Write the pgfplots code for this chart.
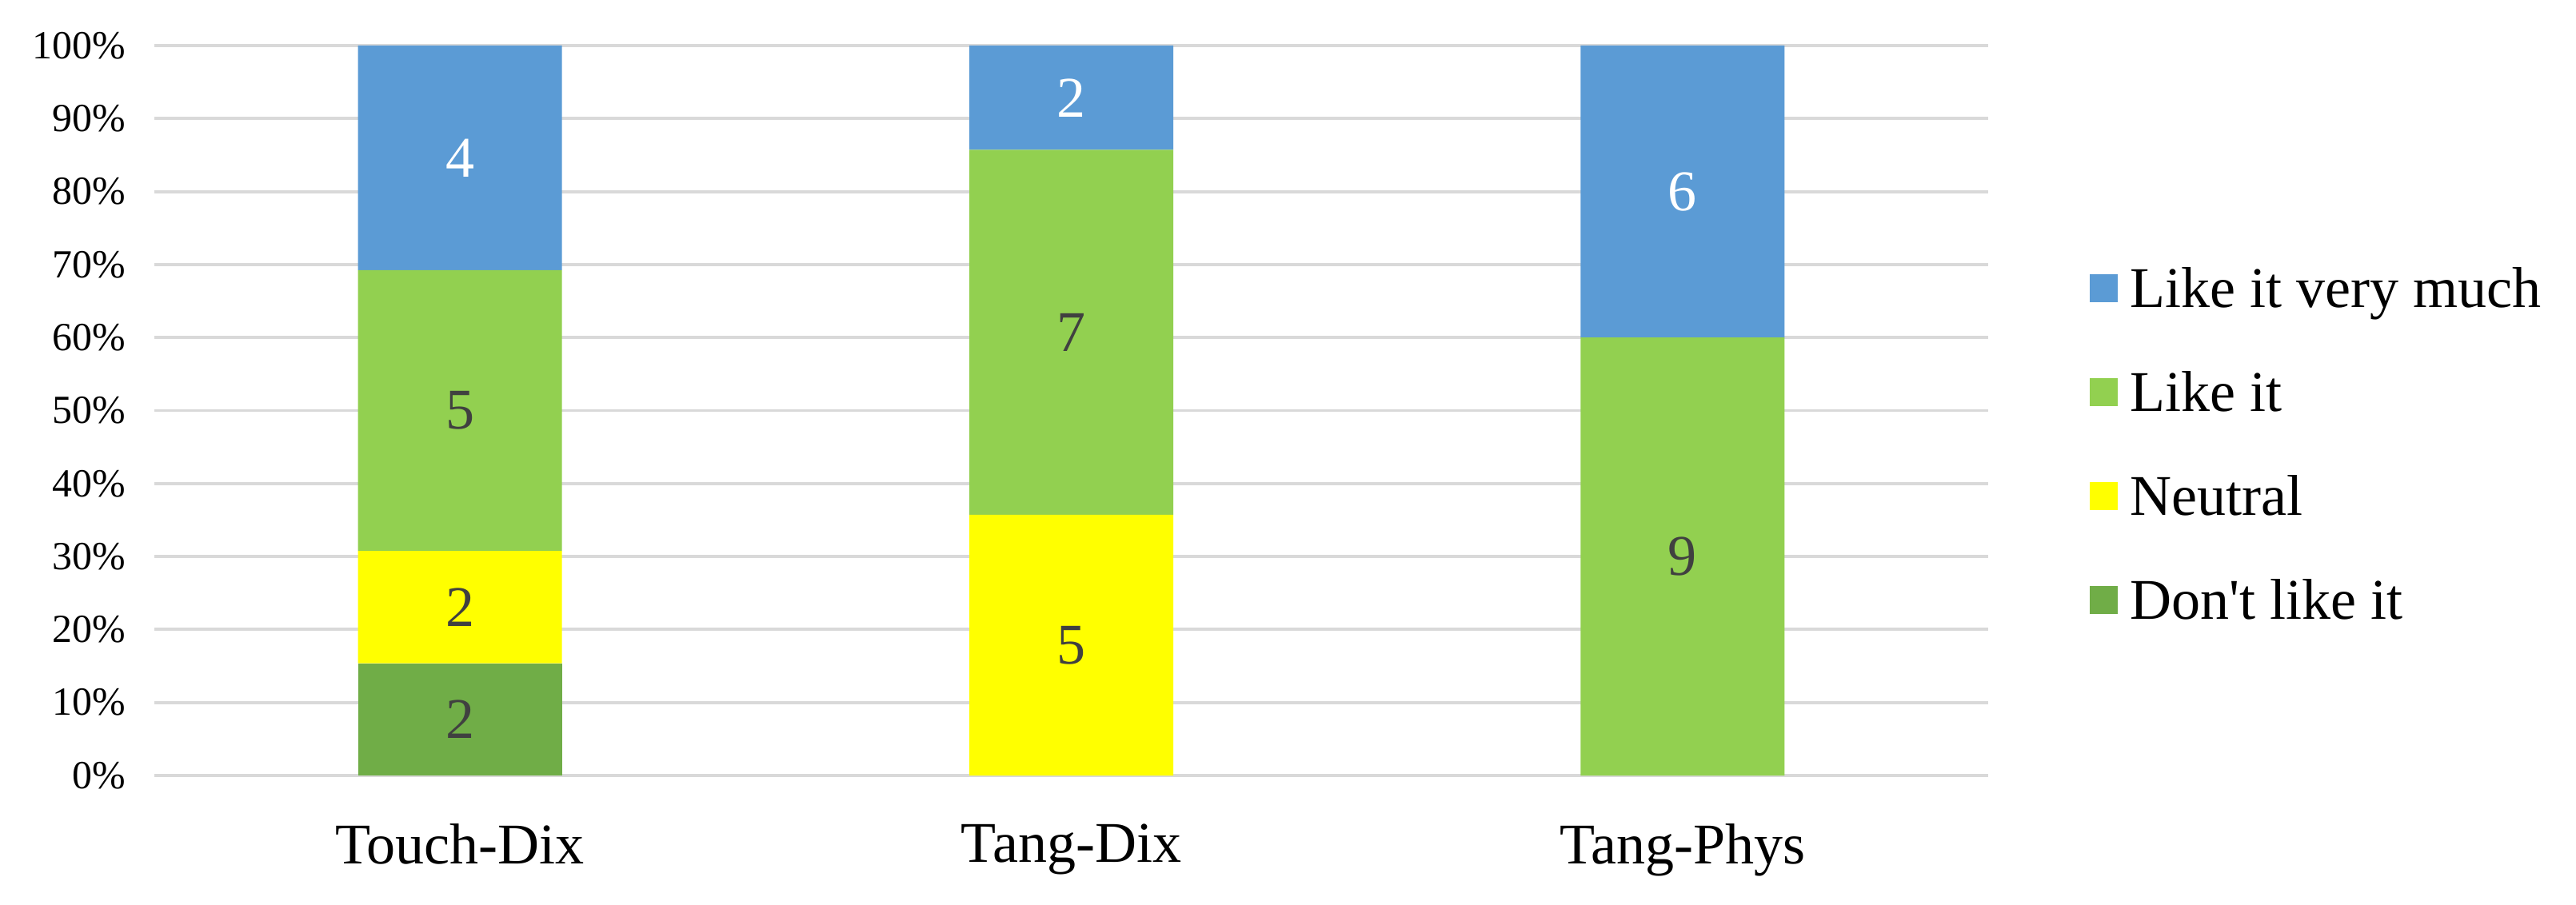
\documentclass[border=0pt]{standalone}
\usepackage{fontspec}
\setmainfont{Liberation Serif}
\usepackage{pgfplots}
\usepackage{pgfplotstable}
\pgfplotsset{compat=1.18}
\definecolor{cVery}{HTML}{5B9BD5}
\definecolor{cLike}{HTML}{92D050}
\definecolor{cNeutral}{HTML}{FFFF00}
\definecolor{cDont}{HTML}{70AD47}
\definecolor{cGrid}{HTML}{D9D9D9}
\definecolor{cLab}{HTML}{404040}

\pgfplotsset{sqlegend/.style={legend image code/.code={\fill[##1, draw=none] (0cm,-0.175cm) rectangle (0.35cm,0.175cm); \path (0.51cm,0cm);}}}

% x = category, y = percent of respondents
\pgfplotstableread{
x y
0 15.385
1 0
2 0
}\dontlike
\pgfplotstableread{
x y
0 15.385
1 35.714
2 0
}\neutral
\pgfplotstableread{
x y
0 38.462
1 50.000
2 60.000
}\likeit
\pgfplotstableread{
x y
0 30.769
1 14.286
2 40.000
}\likevery
% labels: x, middle of segment, count
\pgfplotstableread{
x y n
0 7.692 2
0 23.077 2
0 50.000 5
1 17.857 5
1 60.714 7
2 30.000 9
}\labdark
\pgfplotstableread{
x y n
0 84.615 4
1 92.857 2
2 80.000 6
}\labwhite

\begin{document}
\begin{tikzpicture}
\begin{axis}[
  scale only axis,
  width=22.93cm, height=9.13cm,
  ybar stacked,
  bar width=2.55cm,
  xmin=-0.5, xmax=2.5, ymin=0, ymax=100,
  enlargelimits=false,
  xtick={0,1,2},
  xticklabels={Touch-Dix,Tang-Dix,Tang-Phys},
  ytick={0,10,20,30,40,50,60,70,80,90,100},
  yticklabels={0\%,10\%,20\%,30\%,40\%,50\%,60\%,70\%,80\%,90\%,100\%},
  major tick length=0pt,
  axis line style={draw=none},
  ymajorgrids,
  grid style={cGrid, line width=1.13pt},
  yticklabel style={font=\fontsize{14.2}{17}\selectfont, xshift=-0.24cm},
  xticklabel style={font=\fontsize{20.5}{24}\selectfont, yshift=-0.48cm},
  legend style={draw=none, fill=none, at={(1.0549,0.454)}, anchor=west,
     inner sep=0pt, row sep=0.817cm,
     nodes={inner sep=0pt, text height=0.48cm, text depth=0cm, anchor=west,
            font=\fontsize{20.5}{24}\selectfont}},
  legend cell align=left,
  reverse legend,
]
\addplot[fill=cDont, draw=none, sqlegend] table[x=x, y=y] {\dontlike};
\addlegendentry{Don\textquotesingle t like it}
\addplot[fill=cNeutral, draw=none, sqlegend] table[x=x, y=y] {\neutral};
\addlegendentry{Neutral}
\addplot[fill=cLike, draw=none, sqlegend] table[x=x, y=y] {\likeit};
\addlegendentry{Like it}
\addplot[fill=cVery, draw=none, sqlegend] table[x=x, y=y] {\likevery};
\addlegendentry{Like it very much}
\end{axis}
\begin{axis}[
  scale only axis,
  width=22.93cm, height=9.13cm,
  xmin=-0.5, xmax=2.5, ymin=0, ymax=100,
  enlargelimits=false,
  hide axis,
  point meta=explicit symbolic,
  nodes near coords,
  every node near coord/.append style={anchor=center, font=\fontsize{20.5}{24}\selectfont},
]
\addplot[draw=none, mark=none, nodes near coords style={text=cLab}] table[x=x, y=y, meta=n] {\labdark};
\addplot[draw=none, mark=none, nodes near coords style={text=white}] table[x=x, y=y, meta=n] {\labwhite};
\end{axis}
\pgfresetboundingbox
\path (current axis.south west) ++(-1.93cm,-1.61cm) rectangle ++(32.21cm,11.31cm);
\end{tikzpicture}
\end{document}
